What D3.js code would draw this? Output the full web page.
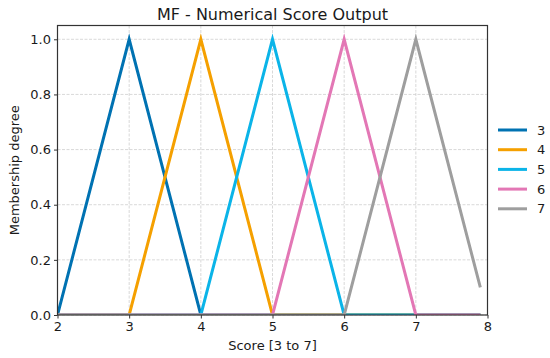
<!DOCTYPE html>
<html>
<head>
<meta charset="utf-8">
<script src="https://cdn.jsdelivr.net/npm/d3@7"></script>
<style>
body{margin:0;background:#fff;}
text{font-family:"DejaVu Sans",sans-serif;fill:#1a1a1a;}
</style>
</head>
<body>
<svg id="chart" width="550" height="358"></svg>
<script>
// breakpoints of the score universe (sampled 2..7.9)
var scoreX = [2, 3, 4, 5, 6, 7, 7.9];
var mf3 = [0, 1, 0, 0, 0, 0, 0];
var mf4 = [0, 0, 1, 0, 0, 0, 0];
var mf5 = [0, 0, 0, 1, 0, 0, 0];
var mf6 = [0, 0, 0, 0, 1, 0, 0];
var mf7 = [0, 0, 0, 0, 0, 1, 0.1];
var seriesNames = ["3", "4", "5", "6", "7"];
var seriesVals = [mf3, mf4, mf5, mf6, mf7];
var colors = ["#0072B2", "#F5A000", "#0BB4E8", "#E377B5", "#9E9E9E"];
var xTicks = [2, 3, 4, 5, 6, 7, 8];
var yTicks = [0, 0.2, 0.4, 0.6, 0.8, 1.0];

var svg = d3.select("#chart");
var pLeft = 57.5, pRight = 487.5, pTop = 25.5, pBottom = 315;

var x = d3.scaleLinear().domain([2, 8]).range([pLeft, pRight]);
var y = d3.scaleLinear().domain([0, 1.05]).range([pBottom, pTop]);

svg.append("defs").append("clipPath").attr("id", "plotclip")
    .append("rect")
    .attr("x", pLeft).attr("y", pTop)
    .attr("width", pRight - pLeft).attr("height", pBottom - pTop);

// grid
svg.append("g").selectAll("line").data(xTicks).enter().append("line")
    .attr("x1", function(d){ return x(d); })
    .attr("x2", function(d){ return x(d); })
    .attr("y1", pTop).attr("y2", pBottom)
    .attr("stroke", "#cfcfcf").attr("stroke-width", 0.8)
    .attr("stroke-dasharray", "3,1.5");
svg.append("g").selectAll("line").data(yTicks).enter().append("line")
    .attr("y1", function(d){ return y(d); })
    .attr("y2", function(d){ return y(d); })
    .attr("x1", pLeft).attr("x2", pRight)
    .attr("stroke", "#cfcfcf").attr("stroke-width", 0.8)
    .attr("stroke-dasharray", "3,1.5");

// membership lines
var line = d3.line()
    .x(function(d, i){ return x(scoreX[i]); })
    .y(function(d){ return y(d); });

svg.append("g").attr("clip-path", "url(#plotclip)")
    .selectAll("path").data(seriesVals).enter().append("path")
    .attr("d", function(d){ return line(d); })
    .attr("fill", "none")
    .attr("stroke", function(d, i){ return colors[i]; })
    .attr("stroke-width", 3)
    .attr("stroke-linejoin", "miter");

// axes
var xAxis = d3.axisBottom(x).tickValues(xTicks).tickSize(3.5).tickPadding(3)
    .tickFormat(d3.format("d"));
var yAxis = d3.axisLeft(y).tickValues(yTicks).tickSize(3.5).tickPadding(3)
    .tickFormat(d3.format(".1f"));

var gx = svg.append("g").attr("transform", "translate(0," + pBottom + ")").call(xAxis);
var gy = svg.append("g").attr("transform", "translate(" + pLeft + ",0)").call(yAxis);
[gx, gy].forEach(function(g){
    g.select(".domain").remove();
    g.selectAll(".tick line").attr("stroke", "#333").attr("stroke-width", 1);
    g.selectAll(".tick text").style("font-size", "13px").style("fill", "#1a1a1a")
        .style("font-family", "DejaVu Sans");
});

// frame
svg.append("rect")
    .attr("x", pLeft).attr("y", pTop)
    .attr("width", pRight - pLeft).attr("height", pBottom - pTop)
    .attr("fill", "none").attr("stroke", "#333").attr("stroke-width", 1.2);

// texts
svg.append("text").attr("x", (pLeft + pRight) / 2).attr("y", 19.5)
    .attr("text-anchor", "middle").style("font-size", "16px")
    .text("MF - Numerical Score Output");
svg.append("text").attr("x", (pLeft + pRight) / 2).attr("y", 350)
    .attr("text-anchor", "middle").style("font-size", "13px")
    .text("Score [3 to 7]");
svg.append("text")
    .attr("transform", "translate(19," + ((pTop + pBottom) / 2) + ") rotate(-90)")
    .attr("text-anchor", "middle").style("font-size", "13px")
    .text("Membership degree");

// legend
var leg = svg.append("g");
for (var i = 0; i < seriesNames.length; i++) {
    var ly = 130 + i * 19.7;
    leg.append("line")
        .attr("x1", 498).attr("x2", 527)
        .attr("y1", ly).attr("y2", ly)
        .attr("stroke", colors[i]).attr("stroke-width", 3);
    leg.append("text")
        .attr("x", 537).attr("y", ly + 4.5)
        .style("font-size", "13px")
        .text(seriesNames[i]);
}
</script>
</body>
</html>
